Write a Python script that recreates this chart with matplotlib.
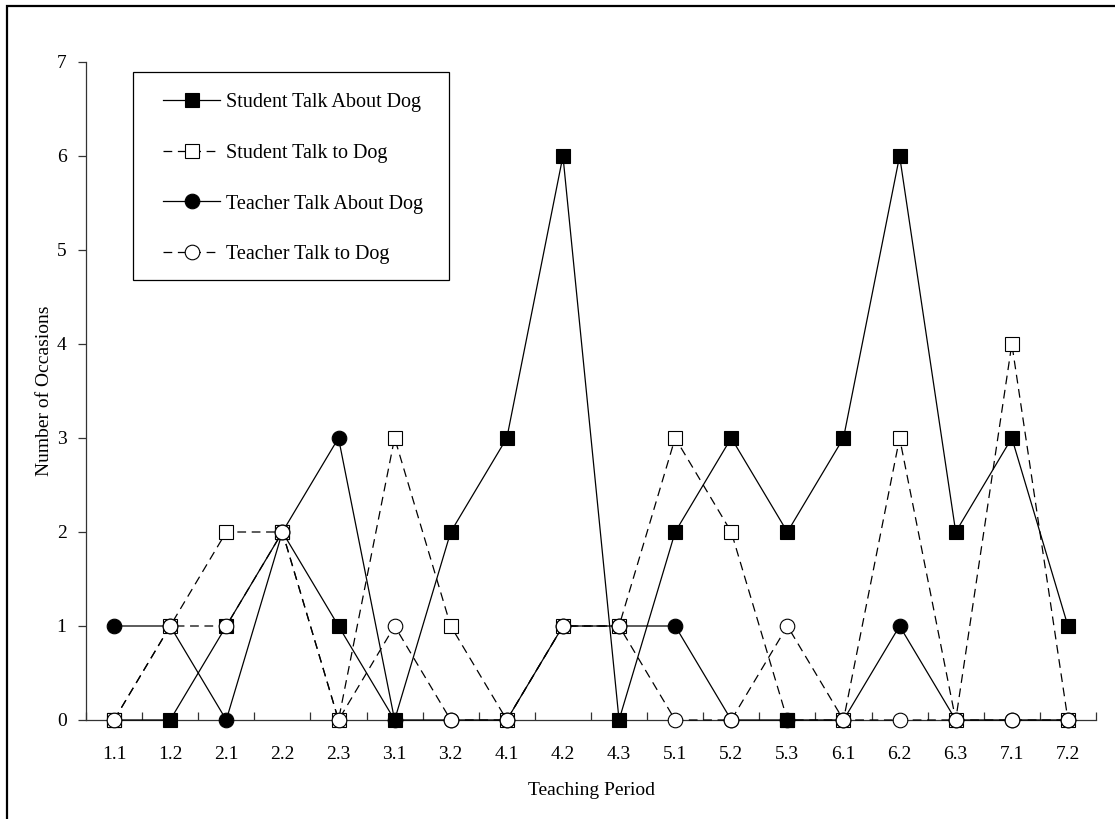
import matplotlib
matplotlib.use("Agg")
import matplotlib.pyplot as plt
from matplotlib.patches import Rectangle
from matplotlib.ticker import FixedLocator, NullFormatter

periods = ["1.1", "1.2", "2.1", "2.2", "2.3", "3.1", "3.2", "4.1", "4.2",
           "4.3", "5.1", "5.2", "5.3", "6.1", "6.2", "6.3", "7.1", "7.2"]
student_about = [0, 0, 1, 2, 1, 0, 2, 3, 6, 0, 2, 3, 2, 3, 6, 2, 3, 1]
student_to    = [0, 1, 2, 2, 0, 3, 1, 0, 1, 1, 3, 2, 0, 0, 3, 0, 4, 0]
teacher_about = [1, 1, 0, 2, 3, 0, 0, 0, 1, 1, 1, 0, 0, 0, 1, 0, 0, 0]
teacher_to    = [0, 1, 1, 2, 0, 1, 0, 0, 1, 1, 0, 0, 1, 0, 0, 0, 0, 0]
yticks = [0, 1, 2, 3, 4, 5, 6, 7]

plt.rcParams['font.family'] = ['Liberation Serif', 'DejaVu Serif']

W, H = 1115, 819
FS = 14
fig = plt.figure(figsize=(W / 100, H / 100), dpi=100)
ax = fig.add_axes([86 / W, 1 - 720 / H, (1096 - 86) / W, (720 - 62) / H])

x = list(range(len(periods)))
lw = 0.9
ms = 10.5
dash = (0, (7, 4.5))
common = dict(color='black', lw=lw, ms=ms, mec='black', mew=0.8, clip_on=False)

ax.plot(x, student_about, ls='-', marker='s', mfc='black',
        label='Student Talk About Dog', zorder=3, **common)
ax.plot(x, student_to, ls=dash, marker='s', mfc='white',
        label='Student Talk to Dog', zorder=4, **common)
# one student-to-dog point shows as a filled marker in the reference (5.3)
i53 = periods.index("5.3")
ax.plot([x[i53]], [student_to[i53]], ls='none', marker='s', ms=ms,
        mfc='black', mec='black', mew=0.8, clip_on=False, zorder=4.5)
ax.plot(x, teacher_about, ls='-', marker='o', mfc='black',
        label='Teacher Talk About Dog', zorder=5, **common)
ax.plot(x, teacher_to, ls=dash, marker='o', mfc='white',
        label='Teacher Talk to Dog', zorder=6, **common)

ax.set_xlim(-0.5, len(periods) - 0.5)
ax.set_ylim(0, 7)
for s in ['top', 'right']:
    ax.spines[s].set_visible(False)
for s in ['left', 'bottom']:
    ax.spines[s].set_linewidth(0.9)
    ax.spines[s].set_color('#333333')

ax.set_xticks(x)
ax.set_xticklabels(periods, fontsize=FS)
ax.tick_params(axis='x', which='major', length=0, pad=18.5)
ax.xaxis.set_minor_locator(FixedLocator([i + 0.5 for i in range(-1, len(periods))]))
ax.xaxis.set_minor_formatter(NullFormatter())
ax.tick_params(axis='x', which='minor', direction='in', length=6, width=0.9,
               color='#333333')
ax.set_yticks(yticks)
ax.set_yticklabels([str(v) for v in yticks], fontsize=FS)
ax.tick_params(axis='y', direction='out', length=6, width=0.9, pad=8,
               color='#333333')

ax.set_xlabel('Teaching Period', fontsize=FS, labelpad=14)
ax.set_ylabel('Number of Occasions', fontsize=FS, labelpad=3)

# legend frame drawn separately, legend content frameless
fig.patches.append(Rectangle((133 / W, 1 - 280 / H), (449 - 133) / W, (280 - 72) / H,
                             transform=fig.transFigure, fill=False,
                             edgecolor='black', lw=0.9, zorder=10))
leg = fig.legend(loc='upper left', bbox_to_anchor=(163 / W, 1 - 93 / H),
                 bbox_transform=fig.transFigure,
                 fontsize=14.5, frameon=False, handlelength=2.85, handletextpad=0.3,
                 labelspacing=1.57, borderpad=0, borderaxespad=0)

fig.patches.append(Rectangle((7 / W, -0.05), 1.2, 1 - 6 / H + 0.05,
                             transform=fig.transFigure, fill=False,
                             edgecolor='black', lw=1.6))

fig.savefig('out.png', dpi=100)
